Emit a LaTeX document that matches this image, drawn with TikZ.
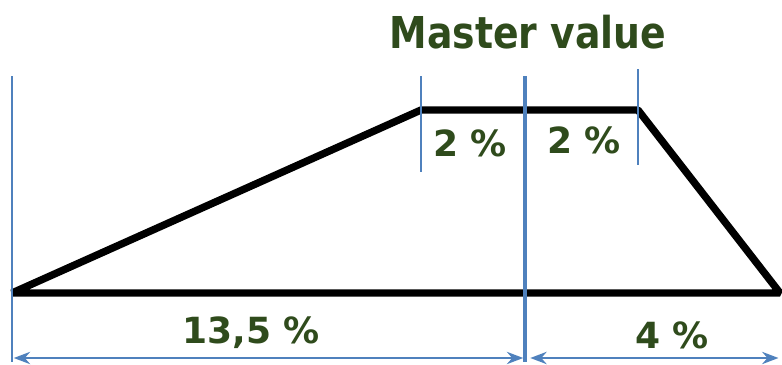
\documentclass[tikz,border=0pt]{standalone}
\usepackage{fontspec}
\setmainfont{DejaVu Sans}
\usetikzlibrary{arrows.meta,positioning}
\definecolor{tolblue}{RGB}{79,129,189}
\definecolor{tolgreen}{RGB}{47,75,28}
\tikzset{
 guide/.style={tolblue,line width=1.6pt},
 span/.style={<->,tolblue,line width=1.4pt},
 pct/.style={tolgreen,font=\bfseries\fontsize{20.5}{22}\selectfont,inner sep=0pt}
}

\begin{document}
\begin{tikzpicture}[x=0.02cm,y=-0.02cm,>=Stealth,line join=bevel]
 \useasboundingbox (0,0) rectangle (782,365);
 % corners of the tolerance band
 \coordinate (bl) at (12,293);
 \coordinate (tl) at (421,110);
 \coordinate (tr) at (638,110);
 \coordinate (br) at (780,293);
 \draw[line width=4.2pt] (bl)--(tl)--(tr)--(br)--cycle;
 % guide lines
 \draw[guide] (12,76)--(12,362);
 \draw[guide,line width=2.6pt] (525,76)--(525,362);
 \draw[guide] (421,76)--(421,172);
 \draw[guide] (638,69)--(638,165);
 % spans at the bottom
 \coordinate (al) at (12,358);
 \coordinate (am) at (525,358);
 \coordinate (ar) at (782,358);
 \draw[span,shorten >=1pt,shorten <=1pt] (al)--(am);
 \draw[span,shorten >=2pt,shorten <=3pt] (am)--(ar);
 \node[pct,font=\bfseries\fontsize{25}{28}\selectfont] (master) at (528,32)
  {\scalebox{0.86}[1]{Master value}};
 \node[pct] (lo) at (470,143) {2 \%};
 \node[pct] (hi) at (584,140) {2 \%};
 \node[pct] (left) at (251,333) {13,5 \%};
 \node[pct] (right) at (672,335) {4 \%};
\end{tikzpicture}
\end{document}
